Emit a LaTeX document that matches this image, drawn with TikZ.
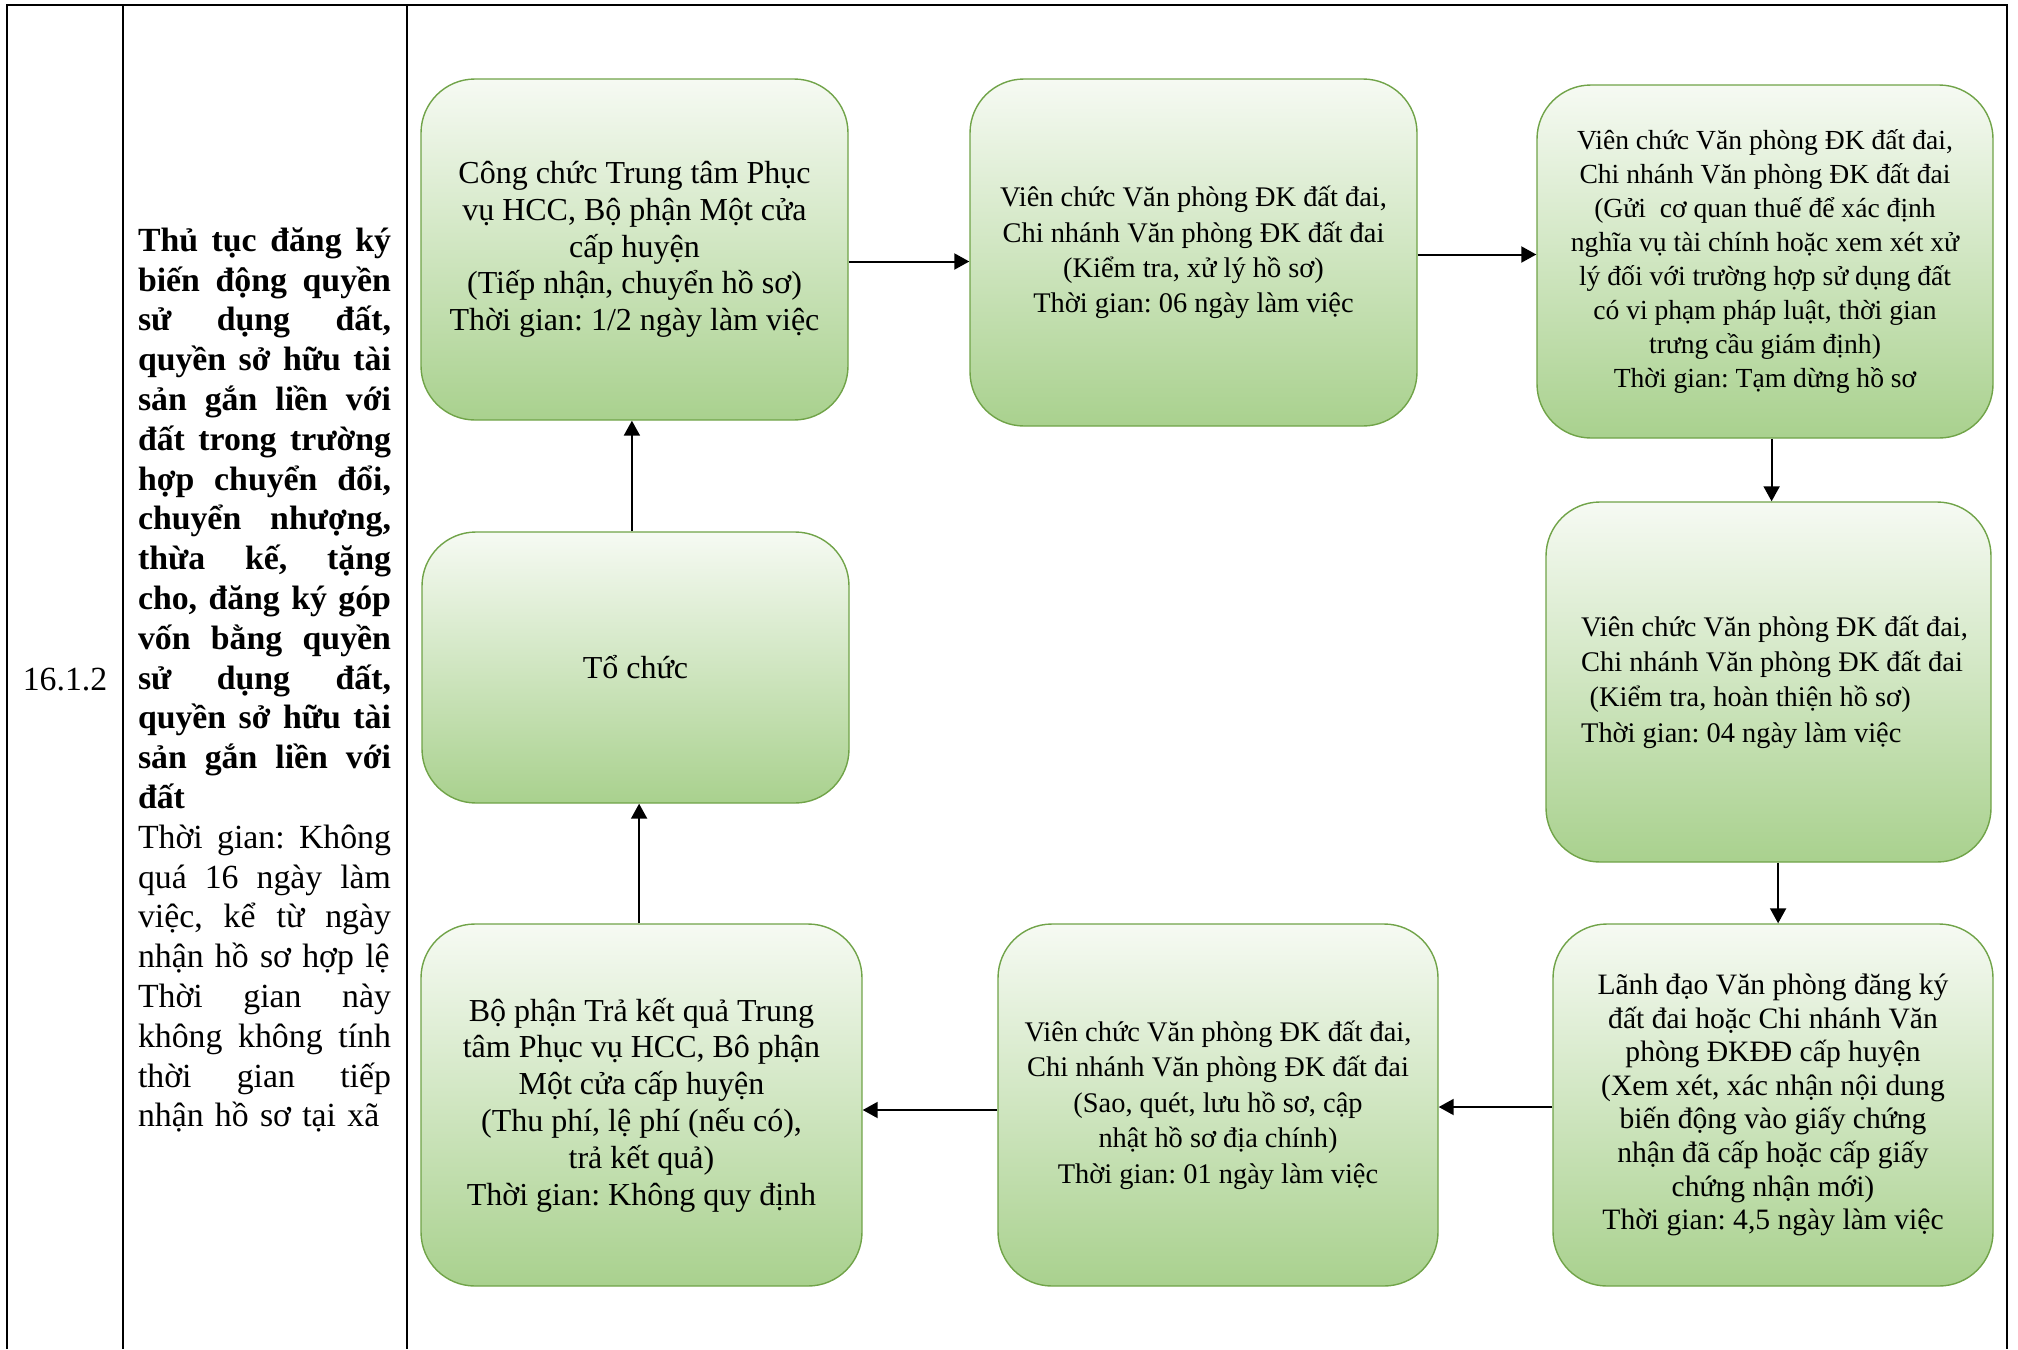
\documentclass[tikz,border=0pt]{standalone}
\usepackage{fontspec}
\setmainfont{Liberation Serif}
\usetikzlibrary{arrows.meta,calc}
\frenchspacing

\definecolor{stagetop}{RGB}{246,250,243}
\definecolor{stagebot}{RGB}{169,209,142}
\definecolor{stageline}{RGB}{112,163,72}

\newlength\colw
\setlength\colw{126.5pt}
\newcommand\fitline[1]{{\spaceskip=0pt\xspaceskip=0pt\makebox[\colw][s]{#1}}}

\begin{document}
\begin{tikzpicture}[x=0.5pt, y=-0.5pt,
  stage/.style={rectangle, draw=stageline, line width=0.7pt,
                rounded corners=27pt, top color=stagetop, bottom color=stagebot,
                align=center, inner sep=2pt,
                font=\fontsize{14.2}{17.7}\selectfont},
  big/.style={font=\fontsize{16}{18.4}\selectfont},
  flow/.style={-{Triangle[length=7.5pt,width=8pt]}, line width=1pt},
  frame/.style={line width=1pt},
  cell/.style={inner sep=0pt, font=\fontsize{16.9}{19.9}\selectfont}
]
  \useasboundingbox (0,0) rectangle (2018,1349);

  % table frame
  \draw[frame] (7,1349) -- (7,5) -- (2007,5) -- (2007,1349);
  \draw[frame] (123,5) -- (123,1349);
  \draw[frame] (407,5) -- (407,1349);

  % first two cells
  \node[cell] (code) at (65,680) {16.1.2};
  \node[cell, text width=\colw, align=left] (title) at (264.5,680) {%
    \bfseries
    \fitline{Thủ tục đăng ký}\\
    \fitline{biến động quyền}\\
    \fitline{sử dụng đất,}\\
    \fitline{quyền sở hữu tài}\\
    \fitline{sản gắn liền với}\\
    \fitline{đất trong trường}\\
    \fitline{hợp chuyển đổi,}\\
    \fitline{chuyển nhượng,}\\
    \fitline{thừa kế, tặng}\\
    \fitline{cho, đăng ký góp}\\
    \fitline{vốn bằng quyền}\\
    \fitline{sử dụng đất,}\\
    \fitline{quyền sở hữu tài}\\
    \fitline{sản gắn liền với}\\
    \mbox{đất}\\
    \mdseries
    \fitline{Thời gian: Không}\\
    \fitline{quá 16 ngày làm}\\
    \fitline{việc, kể từ ngày}\\
    \mbox{nhận hồ sơ hợp lệ}\\
    \fitline{Thời gian này}\\
    \fitline{không không tính}\\
    \fitline{thời gian tiếp}\\
    \mbox{nhận hồ sơ tại xã}};

  % steps
  \node[stage, big, minimum width=213.5pt, minimum height=170.5pt] (recv) at (634.5,249.5)
    {Công chức Trung tâm Phục\\vụ HCC, Bộ phận Một cửa\\cấp huyện\\(Tiếp nhận, chuyển hồ sơ)\\Thời gian: 1/2 ngày làm việc};
  \node[stage, minimum width=223.5pt, minimum height=173.5pt] (process) at (1193.5,252.5)
    {Viên chức Văn phòng ĐK đất đai,\\Chi nhánh Văn phòng ĐK đất đai\\(Kiểm tra, xử lý hồ sơ)\\Thời gian: 06 ngày làm việc};
  \node[stage, font=\fontsize{13.8}{17}\selectfont, minimum width=228pt, minimum height=176.5pt] (tax) at (1765,261.5)
    {Viên chức Văn phòng ĐK đất đai,\\Chi nhánh Văn phòng ĐK đất đai\\(Gửi~ cơ quan thuế để xác định\\nghĩa vụ tài chính hoặc xem xét xử\\lý đối với trường hợp sử dụng đất\\có vi phạm pháp luật, thời gian\\trưng cầu giám định)\\Thời gian: Tạm dừng hồ sơ};
  \node[stage, big, minimum width=213.5pt, minimum height=135.5pt] (org) at (635.5,667.5)
    {Tổ chức};
  \node[stage, align=left, minimum width=222.5pt, minimum height=180pt] (review) at (1768.5,682)
    {\hspace*{6pt}Viên chức Văn phòng ĐK đất đai,\\\hspace*{6pt}Chi nhánh Văn phòng ĐK đất đai\\\hspace*{6pt}\hspace*{0.3em}(Kiểm tra, hoàn thiện hồ sơ)\\\hspace*{6pt}Thời gian: 04 ngày làm việc};
  \node[stage, font=\fontsize{14.8}{16.8}\selectfont, minimum width=220pt, minimum height=181pt] (approve) at (1773,1105)
    {Lãnh đạo Văn phòng đăng ký\\đất đai hoặc Chi nhánh Văn\\phòng ĐKĐĐ cấp huyện\\(Xem xét, xác nhận nội dung\\biến động vào giấy chứng\\nhận đã cấp hoặc cấp giấy\\chứng nhận mới)\\Thời gian: 4,5 ngày làm việc};
  \node[stage, minimum width=220pt, minimum height=181pt] (archive) at (1218,1105)
    {Viên chức Văn phòng ĐK đất đai,\\Chi nhánh Văn phòng ĐK đất đai\\(Sao, quét, lưu hồ sơ, cập\\nhật hồ sơ địa chính)\\Thời gian: 01 ngày làm việc};
  \node[stage, big, minimum width=220.5pt, minimum height=181pt] (deliver) at (641.5,1105)
    {Bộ phận Trả kết quả Trung\\tâm Phục vụ HCC, Bô phận\\Một cửa cấp huyện\\(Thu phí, lệ phí (nếu có),\\trả kết quả)\\Thời gian: Không quy định};

  % flow
  \draw[flow] ([yshift=-6pt]recv.east) -- ([yshift=-6pt]recv.east -| process.west);
  \draw[flow] ([yshift=-1pt]process.east) -- ([yshift=-1pt]process.east -| tax.west);
  \draw[flow] ([xshift=3.3pt]tax.south) -- ([xshift=3.3pt]tax.south |- review.north);
  \draw[flow] ([xshift=4.8pt]review.south) -- ([xshift=4.8pt]review.south |- approve.north);
  \draw[flow] ([yshift=-1pt]approve.west) -- ([yshift=-1pt]approve.west -| archive.east);
  \draw[flow] ([yshift=-2.5pt]archive.west) -- ([yshift=-2.5pt]archive.west -| deliver.east);
  \draw[flow] ([xshift=-1.2pt]deliver.north) -- ([xshift=-1.2pt]deliver.north |- org.south);
  \draw[flow] ([xshift=-1.8pt]org.north) -- ([xshift=-1.8pt]org.north |- recv.south);
\end{tikzpicture}
\end{document}
